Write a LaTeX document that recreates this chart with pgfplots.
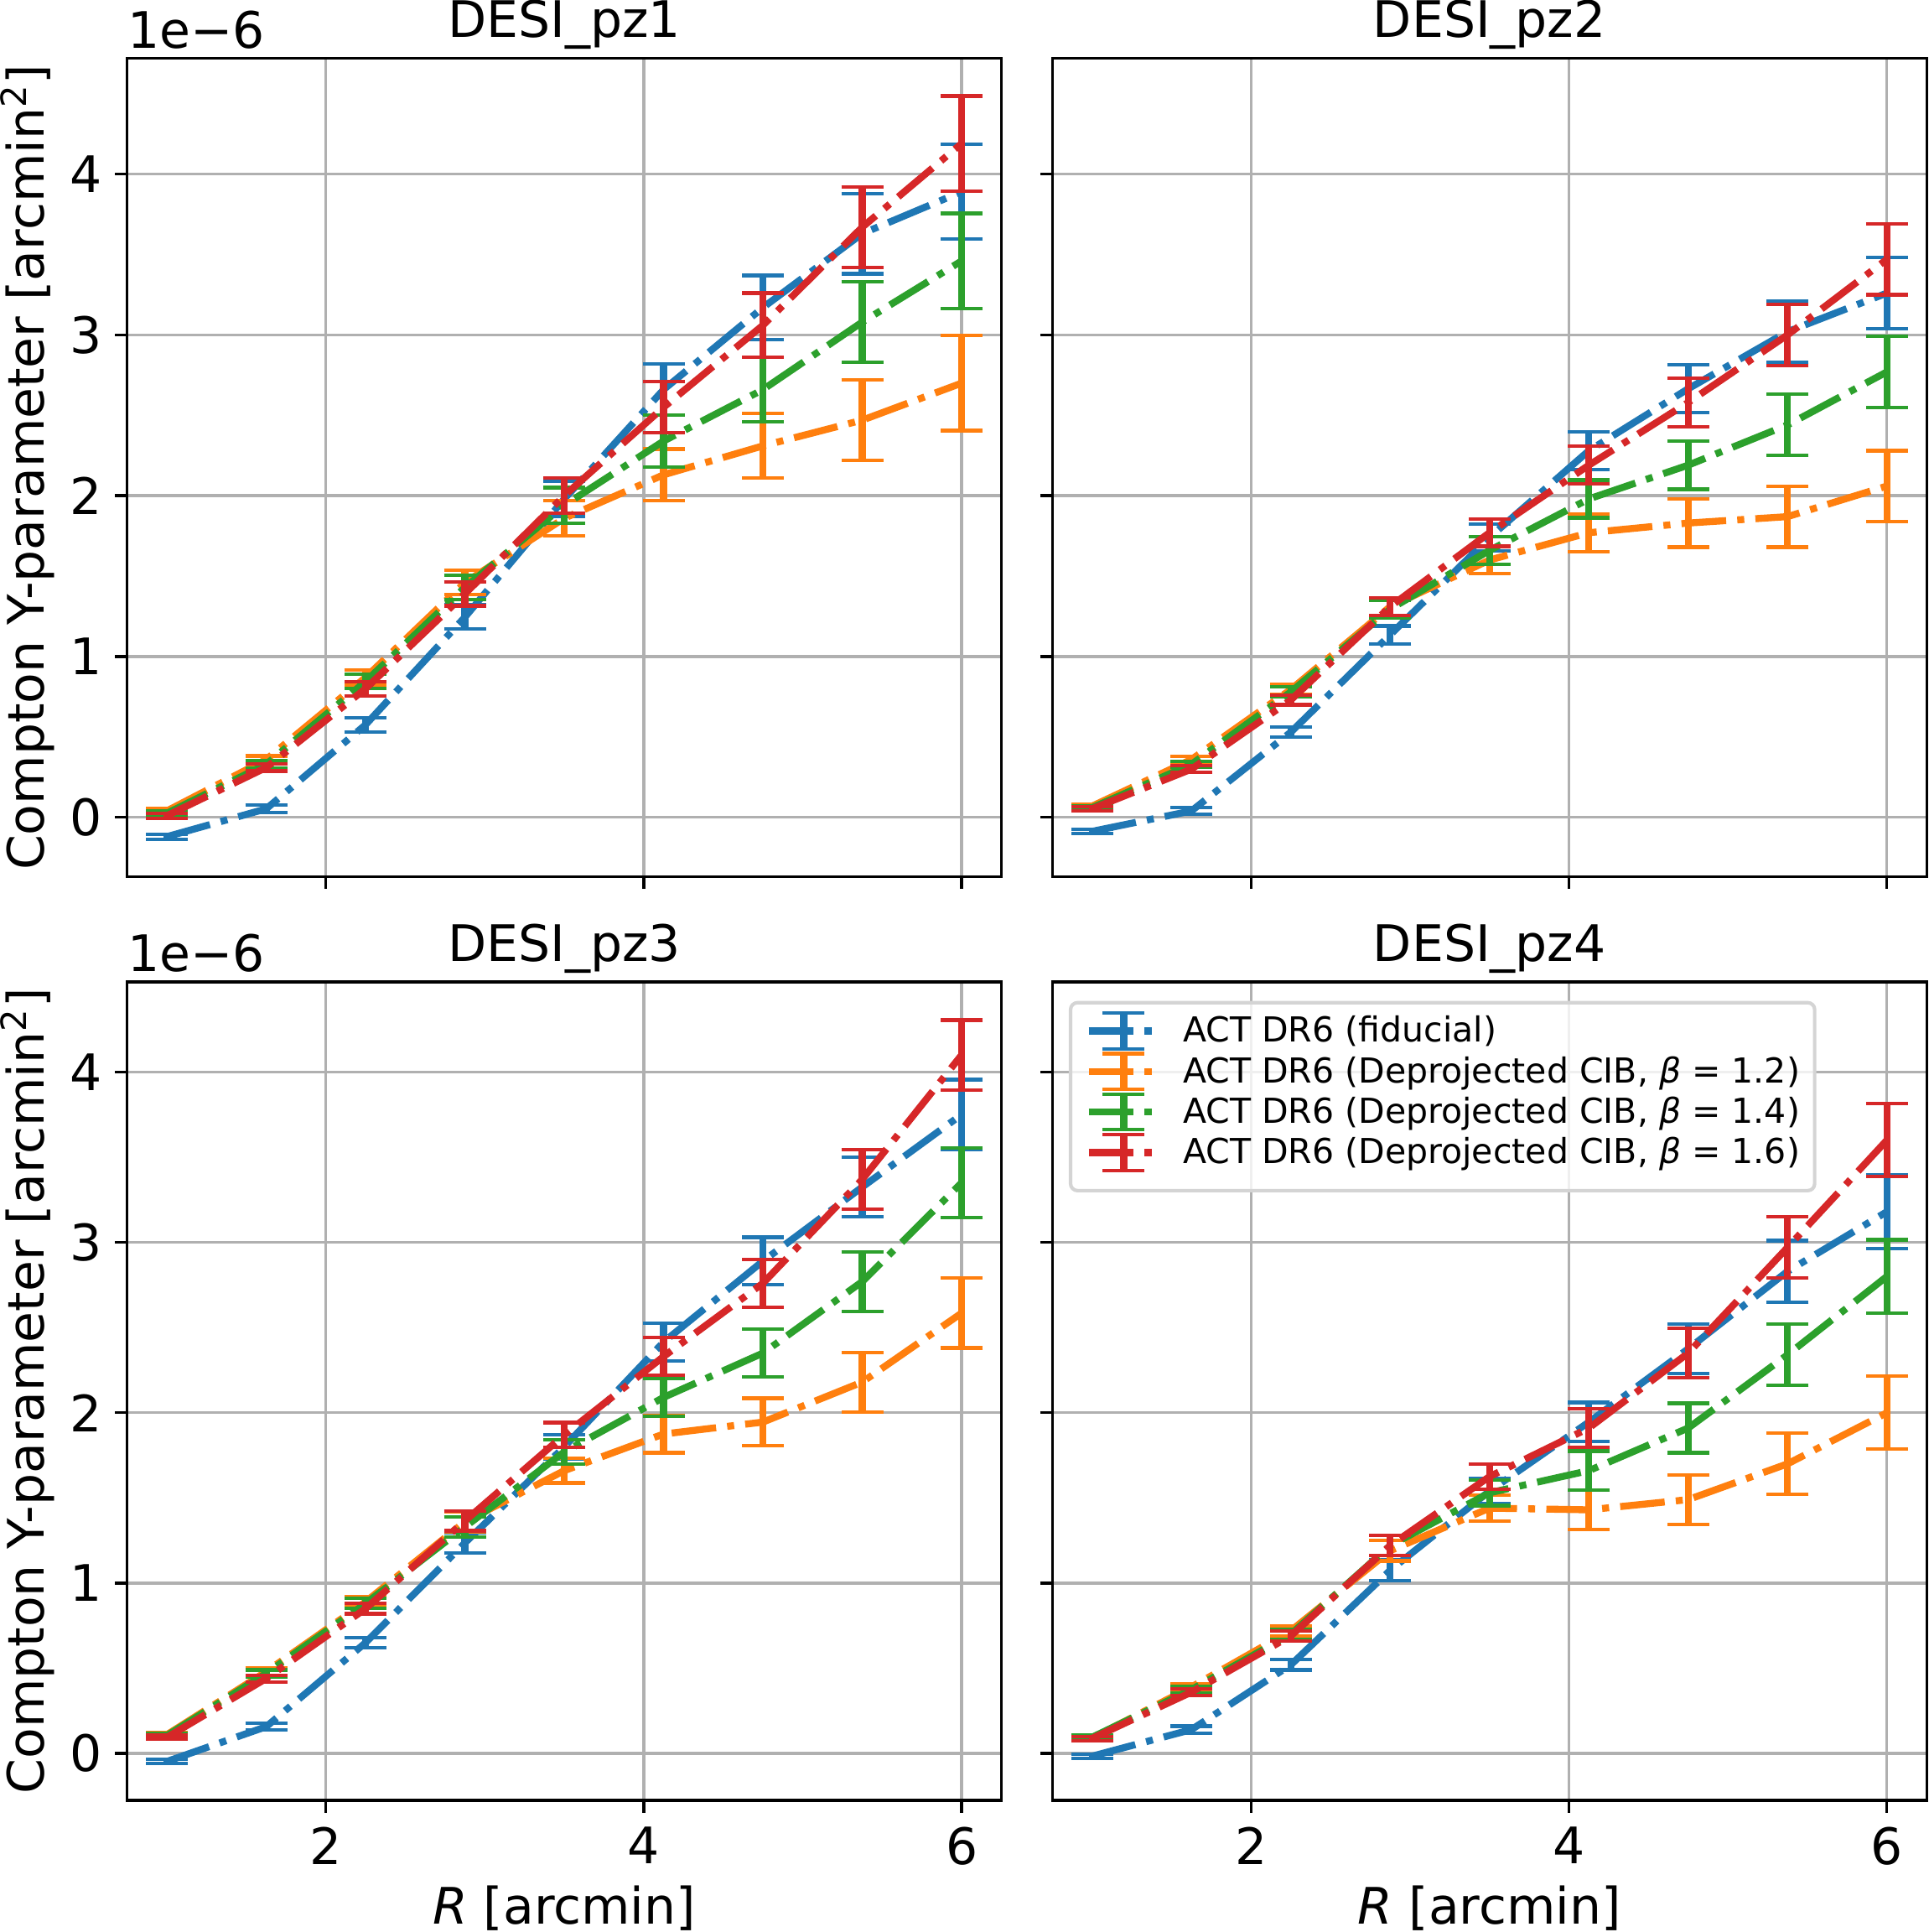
\documentclass[border=0pt]{standalone}
\usepackage{fontspec}
\setmainfont{DejaVu Sans}
\usepackage{pgfplots}
\pgfplotsset{compat=1.18}
\usepackage{pgfplotstable}

\definecolor{c0}{RGB}{31,119,180}
\definecolor{c1}{RGB}{255,127,14}
\definecolor{c2}{RGB}{44,160,44}
\definecolor{c3}{RGB}{214,39,40}
\definecolor{gridc}{RGB}{176,176,176}
\definecolor{legedge}{RGB}{212,212,212}
\newcommand\lab{\fontsize{14.4}{17}\selectfont}

% columns: R, fiducial, beta=1.2, beta=1.4, beta=1.6, error
\pgfplotstableread{
x     b      o      g      r      e
1.000 -0.120 0.040  0.025  0.010  0.015
1.625 0.053  0.360  0.330  0.310  0.022
2.250 0.576  0.870  0.845  0.800  0.045
2.875 1.245  1.460  1.430  1.390  0.075
3.500 1.980  1.860  1.940  2.000  0.110
4.125 2.660  2.130  2.340  2.550  0.160
4.750 3.170  2.310  2.660  3.060  0.200
5.375 3.630  2.470  3.080  3.670  0.250
6.000 3.890  2.700  3.460  4.190  0.295
}\tabA
\pgfplotstableread{
x     b      o      g      r      e
1.000 -0.087 0.070  0.060  0.053  0.012
1.625 0.040  0.360  0.330  0.300  0.020
2.250 0.530  0.795  0.780  0.730  0.030
2.875 1.135  1.310  1.295  1.310  0.055
3.500 1.740  1.600  1.660  1.770  0.085
4.125 2.280  1.770  1.980  2.190  0.117
4.750 2.665  1.830  2.190  2.580  0.150
5.375 3.020  1.870  2.440  3.000  0.190
6.000 3.260  2.060  2.770  3.470  0.220
}\tabB
\pgfplotstableread{
x     b      o      g      r      e
1.000 -0.047 0.110  0.105  0.094  0.012
1.625 0.157  0.480  0.470  0.440  0.020
2.250 0.650  0.890  0.880  0.850  0.030
2.875 1.236  1.360  1.330  1.365  0.058
3.500 1.800  1.660  1.770  1.870  0.072
4.125 2.415  1.875  2.090  2.330  0.110
4.750 2.890  1.945  2.350  2.760  0.140
5.375 3.325  2.180  2.770  3.370  0.175
6.000 3.750  2.585  3.350  4.100  0.205
}\tabC
\pgfplotstableread{
x     b      o      g      r      e
1.000 -0.016 0.090  0.095  0.088  0.012
1.625 0.140  0.390  0.375  0.360  0.020
2.250 0.520  0.720  0.700  0.690  0.030
2.875 1.075  1.190  1.220  1.220  0.060
3.500 1.540  1.440  1.530  1.625  0.075
4.125 1.945  1.430  1.660  1.910  0.115
4.750 2.375  1.490  1.910  2.350  0.145
5.375 2.830  1.700  2.340  2.970  0.180
6.000 3.180  2.000  2.800  3.600  0.215
}\tabD

\pgfplotsset{
  ser/.style={line width=2pt, line join=round, dash pattern=on 12.8pt off 3.2pt on 2pt off 3.2pt},
  base/.style={
    scale only axis, width=250.3pt, height=234.2pt,
    xmin=0.75, xmax=6.25,
    xtick={2,4,6}, ytick={0,1,2,3,4},
    xtick pos=bottom, ytick pos=left,
    grid=major, major grid style={line width=0.8pt, color=gridc},
    axis line style={line width=0.8pt},
    tick align=outside, major tick length=3.5pt,
    tick style={line width=0.8pt, black},
    tick label style={font=\lab},
    yticklabel style={anchor=east, inner sep=0pt, xshift=-3.5pt},
    xticklabel style={anchor=north, inner sep=0pt, yshift=-4pt},
    /pgf/number format/assume math mode=true,
    clip mode=individual,
    error bars/y dir=both,
    error bars/y explicit,
    error bars/error bar style={line width=2pt, solid},
    error bars/error mark options={rotate=90, mark size=6pt, line width=1pt, solid},
  },
  row1/.style={ymin=-0.368, ymax=4.72},
  row2/.style={ymin=-0.275, ymax=4.528},
}

\begin{document}
\begin{tikzpicture}
\path[use as bounding box] (-36.4pt,-37.7pt) rectangle (515.8pt,515.3pt);

% ---------- panel 1 ----------
\begin{axis}[base, row1, at={(0pt,264.4pt)}, xticklabels={,,}]
\addplot[c0, ser] table[x=x, y=b, y error=e] {\tabA};
\addplot[c1, ser] table[x=x, y=o, y error=e] {\tabA};
\addplot[c2, ser] table[x=x, y=g, y error=e] {\tabA};
\addplot[c3, ser] table[x=x, y=r, y error=e] {\tabA};
\node[anchor=base, font=\lab, inner sep=0pt] at ([yshift=6pt]rel axis cs:0.5,1) {DESI\_pz1};
\node[anchor=base west, font=\lab, inner sep=0pt] at ([yshift=3pt]rel axis cs:0,1) {1e−6};
\node[rotate=90, anchor=base, font=\lab, inner sep=0pt] at ([xshift=-23.7pt]rel axis cs:0,0.5) {Compton Y-parameter [arcmin\textsuperscript{2}]};
\end{axis}

% ---------- panel 2 ----------
\begin{axis}[base, row1, at={(264.9pt,264.4pt)}, xticklabels={,,}, yticklabels={,,,,}]
\addplot[c0, ser] table[x=x, y=b, y error=e] {\tabB};
\addplot[c1, ser] table[x=x, y=o, y error=e] {\tabB};
\addplot[c2, ser] table[x=x, y=g, y error=e] {\tabB};
\addplot[c3, ser] table[x=x, y=r, y error=e] {\tabB};
\node[anchor=base, font=\lab, inner sep=0pt] at ([yshift=6pt]rel axis cs:0.5,1) {DESI\_pz2};
\end{axis}

% ---------- panel 3 ----------
\begin{axis}[base, row2, at={(0pt,0pt)}]
\addplot[c0, ser] table[x=x, y=b, y error=e] {\tabC};
\addplot[c1, ser] table[x=x, y=o, y error=e] {\tabC};
\addplot[c2, ser] table[x=x, y=g, y error=e] {\tabC};
\addplot[c3, ser] table[x=x, y=r, y error=e] {\tabC};
\node[anchor=base, font=\lab, inner sep=0pt] at ([yshift=6pt]rel axis cs:0.5,1) {DESI\_pz3};
\node[anchor=base west, font=\lab, inner sep=0pt] at ([yshift=3pt]rel axis cs:0,1) {1e−6};
\node[rotate=90, anchor=base, font=\lab, inner sep=0pt] at ([xshift=-23.7pt]rel axis cs:0,0.5) {Compton Y-parameter [arcmin\textsuperscript{2}]};
\node[anchor=base, font=\lab, inner sep=0pt] at ([yshift=-35.3pt]rel axis cs:0.5,0) {\textit{R} [arcmin]};
\end{axis}

% ---------- panel 4 ----------
\begin{axis}[base, row2, at={(264.9pt,0pt)}, yticklabels={,,,,},
  legend cell align=left,
  legend image code/.code={
    \draw[#1, line width=2pt, dash pattern=on 12.8pt off 3.2pt on 2pt off 3.2pt] (0pt,0pt) -- (20pt,0pt);
    \draw[#1, overlay, solid, line width=2pt] (10pt,-5.1pt) -- (10pt,5.1pt);
    \draw[#1, overlay, solid, line width=1pt] (4pt,-5.1pt) -- (16pt,-5.1pt) (4pt,5.1pt) -- (16pt,5.1pt);
    \path[draw=none, fill=none] (0pt,4.4pt) rectangle (27pt,-7.2pt);
  },
  legend style={at={(rel axis cs:0,1)}, anchor=north west, xshift=4.7pt, yshift=-5.4pt,
    draw=legedge, line width=1pt, rounded corners=2pt, fill=white, fill opacity=0.8,
    draw opacity=1, text opacity=1, inner xsep=4.2pt, inner ysep=3.7pt,
    row sep=0pt, column sep=0pt, font=\fontsize{9.85}{12}\selectfont,
    nodes={inner sep=0pt, text height=7.6pt, text depth=1.2pt}},
]
\addplot[c0, ser] table[x=x, y=b, y error=e] {\tabD};
\addlegendentry{ACT DR6 (fiducial)}
\addplot[c1, ser] table[x=x, y=o, y error=e] {\tabD};
\addlegendentry{ACT DR6 (Deprojected CIB, \textit{β} = 1.2)}
\addplot[c2, ser] table[x=x, y=g, y error=e] {\tabD};
\addlegendentry{ACT DR6 (Deprojected CIB, \textit{β} = 1.4)}
\addplot[c3, ser] table[x=x, y=r, y error=e] {\tabD};
\addlegendentry{ACT DR6 (Deprojected CIB, \textit{β} = 1.6)}
\node[anchor=base, font=\lab, inner sep=0pt] at ([yshift=6pt]rel axis cs:0.5,1) {DESI\_pz4};
\node[anchor=base, font=\lab, inner sep=0pt] at ([yshift=-35.3pt]rel axis cs:0.5,0) {\textit{R} [arcmin]};
\end{axis}
\end{tikzpicture}
\end{document}
